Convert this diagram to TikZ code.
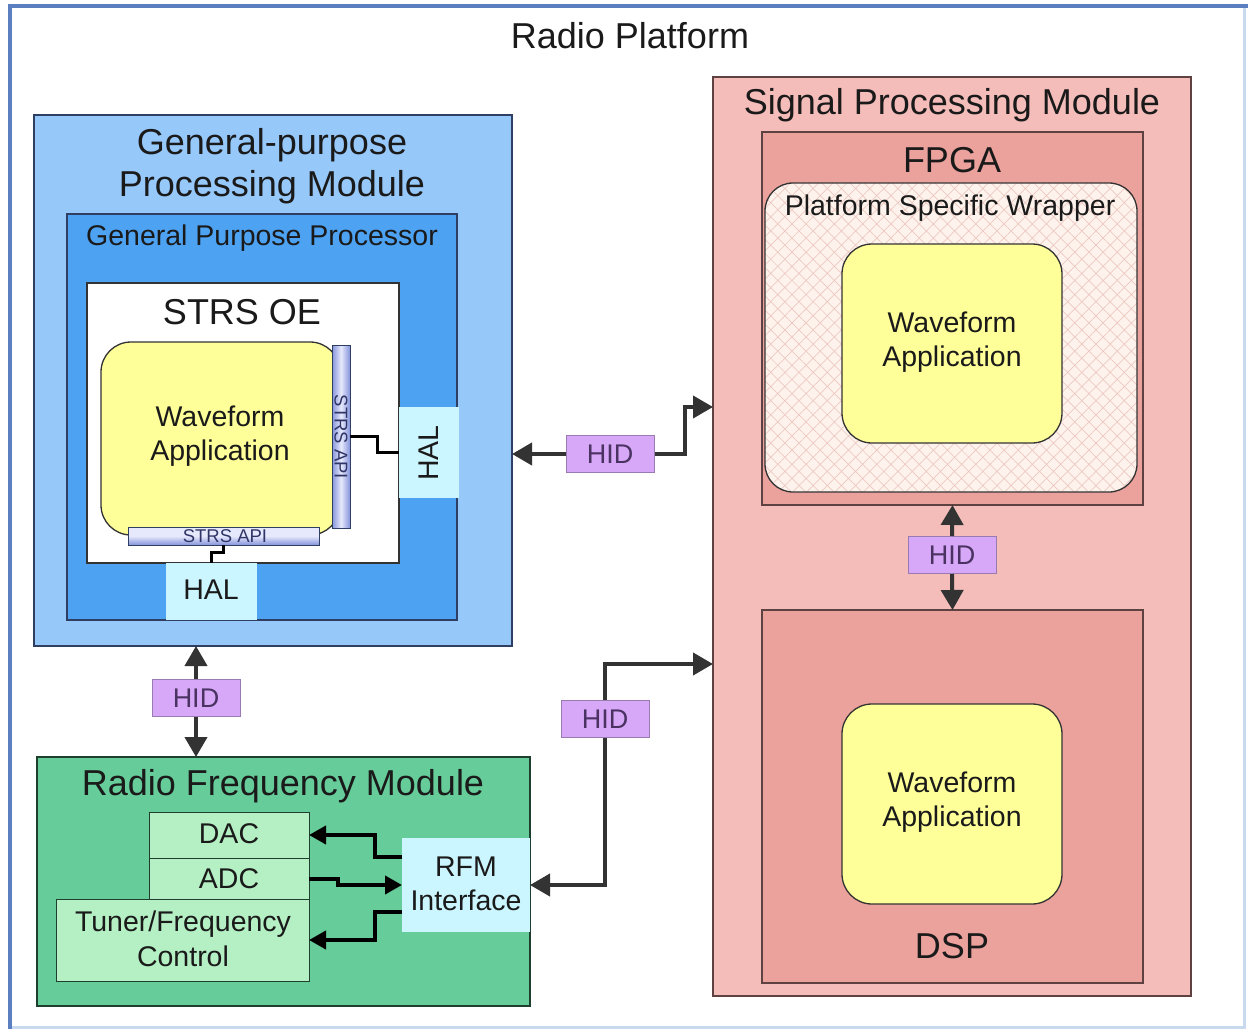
\documentclass[tikz,border=0pt]{standalone}
\usepackage{fontspec}
\setmainfont{Liberation Sans}
\usetikzlibrary{fit,arrows.meta,patterns.meta}
\definecolor{frameblue}{HTML}{5B7FC1}
\definecolor{framelight}{HTML}{C9D9EF}
\definecolor{gpmfill}{HTML}{96C8FA}
\definecolor{gppfill}{HTML}{4DA2F2}
\definecolor{bluebord}{HTML}{2E3F63}
\definecolor{halfill}{HTML}{CCF6FF}
\definecolor{wavefill}{HTML}{FFFF99}
\definecolor{apilight}{HTML}{E6E8FB}
\definecolor{apidark}{HTML}{8595DC}
\definecolor{apitext}{HTML}{2F3566}
\definecolor{spmfill}{HTML}{F4BDBA}
\definecolor{fpgafill}{HTML}{EBA19C}
\definecolor{redbord}{HTML}{5E4242}
\definecolor{wrapbg}{HTML}{FDF3EC}
\definecolor{hatchcol}{HTML}{EDC9C2}
\definecolor{hidfill}{HTML}{D7A8F7}
\definecolor{hidbord}{HTML}{9A7BB0}
\definecolor{hidtext}{HTML}{4A3262}
\definecolor{rfmfill}{HTML}{66CC99}
\definecolor{rfmlight}{HTML}{B5F0C4}
\definecolor{greenbord}{HTML}{1F3F2E}
\definecolor{wirecol}{HTML}{333333}
\definecolor{txt}{HTML}{1A1A1A}
\begin{document}
\begin{tikzpicture}[x=1pt,y=-1pt,
  box/.style={inner sep=0pt, outer sep=0pt, line width=1.3pt},
  bigtxt/.style={font=\fontsize{36}{42}\selectfont, text=txt, align=center, inner sep=0pt},
  midtxt/.style={font=\fontsize{28.5}{34.5}\selectfont, text=txt, align=center, inner sep=0pt},
  apitxt/.style={font=\fontsize{18.5}{20}\selectfont, text=apitext, inner sep=0pt},
  wave/.style={box, draw=wirecol, fill=wavefill, rounded corners=30pt},
  hid/.style={draw=hidbord, fill=hidfill, line width=1pt, minimum width=88pt, minimum height=37pt, inner sep=0pt, font=\fontsize{27}{30}\selectfont, text=hidtext},
  arr/.style={draw=wirecol, line width=4pt, -{Triangle[length=20pt,width=22pt]}},
  arrB/.style={draw=black, line width=4pt, -{Triangle[length=17pt,width=18pt]}},
  wire/.style={draw=black, line width=3pt}
]
\useasboundingbox (0,0) rectangle (1248,1030);
\fill[white] (0,0) rectangle (1248,1030);
\draw[framelight, line width=3pt] (10,6) rectangle (1244,1027);
\draw[frameblue, line width=4.5pt] (10,1029) -- (10,6) -- (1248,6);
\node[bigtxt] (title) at (630,36) {Radio Platform};

% General-purpose processing module
\node[box, draw=bluebord, fill=gpmfill, fit={(34,115)(512,646)}] (gpm) {};
\node[bigtxt] (gpmT) at (272,166) {General-purpose\\Processing Module};
\node[box, draw=bluebord, fill=gppfill, fit={(67,214)(457,620)}] (gpp) {};
\node[midtxt] (gppT) at (262,238) {General Purpose Processor};
\node[box, draw=wirecol, fill=white, fit={(87,283)(399,563)}] (oe) {};
\node[bigtxt] (oeT) at (242,312) {STRS OE};
\node[wave, fit={(101,342)(340,535)}] (wave1) {};
\node[midtxt] (wave1T) at (220,436) {Waveform\\Application};
\node[box, draw=bluebord, line width=1pt, top color=apidark, bottom color=apidark, middle color=apilight, shading angle=90, fit={(332,345)(350,528)}] (apiV) {};
\node[apitxt, rotate=-90] (apiVT) at (341,437) {STRS API};
\node[box, draw=bluebord, line width=1pt, top color=apilight, bottom color=apidark, middle color=apilight, fit={(128,527)(319,545)}] (apiH) {};
\node[apitxt] (apiHT) at (225,536) {STRS API};
\node[box, fill=halfill, fit={(399,407)(459,498)}] (halR) {};
\node[midtxt, rotate=90] (halRT) at (429,453) {HAL};
\node[box, fill=halfill, fit={(166,563)(257,620)}] (halB) {};
\node[midtxt] (halBT) at (211,590) {HAL};
\draw[wire] (apiV.east) -- ++(27,0) |- (halR.west);
\draw[wire] (apiH.south) -- ++(0,7) -| (halB.north);

% Signal processing module
\node[box, draw=redbord, fill=spmfill, fit={(713,77)(1191,996)}] (spm) {};
\node[bigtxt] (spmT) at (952,105) {Signal Processing Module};
\node[box, draw=redbord, fill=fpgafill, fit={(762,132)(1143,505)}] (fpga) {};
\node[bigtxt] (fpgaT) at (952,160) {FPGA};
\node[box, draw=wirecol, rounded corners=28pt, preaction={fill=wrapbg}, pattern={Hatch[angle=45,distance=10pt,line width=0.7pt]}, pattern color=hatchcol, fit={(765,183)(1137,492)}] (wrap) {};
\node[midtxt] (wrapT) at (950,208) {Platform Specific Wrapper};
\node[wave, fit={(842,244)(1062,443)}] (wave2) {};
\node[midtxt] (wave2T) at (952,342) {Waveform\\Application};
\node[box, draw=redbord, fill=fpgafill, fit={(762,610)(1143,983)}] (dsp) {};
\node[wave, fit={(842,704)(1062,904)}] (wave3) {};
\node[midtxt] (wave3T) at (952,802) {Waveform\\Application};
\node[bigtxt] (dspT) at (952,946) {DSP};

% Radio frequency module
\node[box, draw=greenbord, fill=rfmfill, fit={(37,757)(530,1006)}] (rfm) {};
\node[bigtxt] (rfmT) at (283,786) {Radio Frequency Module};
\node[box, draw=greenbord, line width=1pt, fill=rfmlight, fit={(149,812)(309,858)}] (dac) {};
\node[midtxt] (dacT) at (229,834) {DAC};
\node[box, draw=greenbord, line width=1pt, fill=rfmlight, fit={(149,858)(309,899)}] (adc) {};
\node[midtxt] (adcT) at (229,879) {ADC};
\node[box, draw=greenbord, line width=1pt, fill=rfmlight, fit={(56,899)(309,981)}] (tuner) {};
\node[midtxt] (tunerT) at (183,939) {Tuner/Frequency\\Control};
\node[box, fill=halfill, fit={(402,838)(530,932)}] (rfmI) {};
\node[midtxt] (rfmIT) at (466,884) {RFM\\Interface};
\draw[arrB] ([yshift=28pt]rfmI.west) -- ++(-27,0) |- (dac.east);
\draw[arrB] (adc.east) -- ++(29,0) |- (rfmI.west);
\draw[arrB] ([yshift=-27pt]rfmI.west) -- ++(-27,0) |- (tuner.east);

% HID links
\node[hid] (hid1) at (610,454) {HID};
\draw[arr] (hid1.west) -- (gpm.east |- hid1.west);
\draw[arr] (hid1.east) -- ++(30,0) |- ([yshift=129.5pt]spm.west);
\node[hid] (hid2) at (952,555) {HID};
\draw[arr] (hid2.north) -- (fpga.south);
\draw[arr] (hid2.south) -- (dsp.north);
\node[hid] (hid3) at (196,698) {HID};
\draw[arr] (hid3.north) -- (gpm.south -| hid3.north);
\draw[arr] (hid3.south) -- (rfm.north -| hid3.south);
\node[hid] (hid4) at (605,719) {HID};
\draw[arr] (hid4.south) |- (rfmI.east);
\draw[arr] (hid4.north) |- ([yshift=-127.5pt]spm.west);
\end{tikzpicture}
\end{document}
